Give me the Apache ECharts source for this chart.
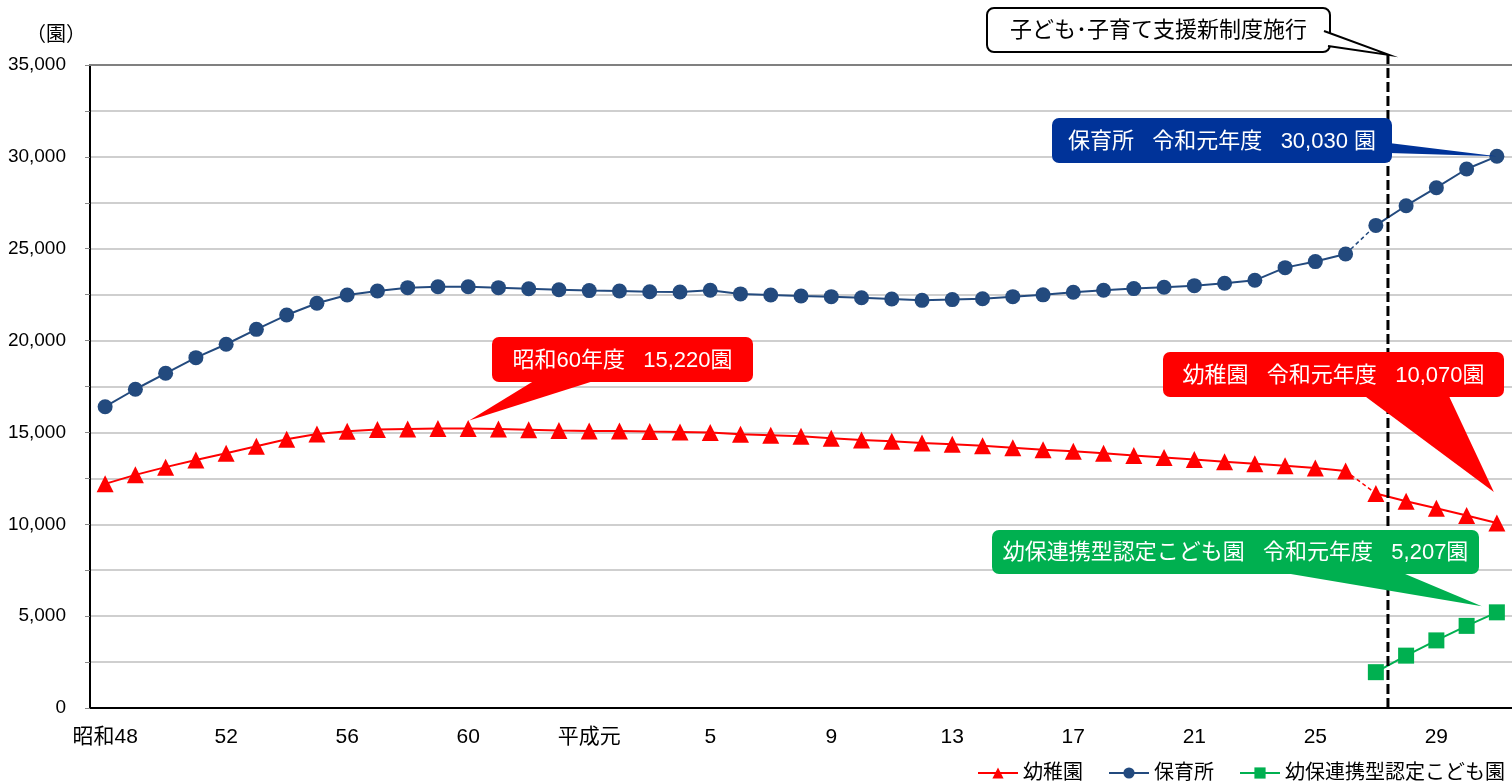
<!DOCTYPE html>
<html>
<head>
<meta charset="utf-8">
<script src="https://cdn.jsdelivr.net/npm/echarts@6/dist/echarts.min.js"></script>
<style>
html, body { margin: 0; padding: 0; background: #fff; }
#main { width: 1512px; height: 783px; }
</style>
</head>
<body>
<div id="main"></div>
<script>
// 年度（昭和48〜令和元）
var years = [
    '昭和48', '49', '50', '51', '52', '53', '54', '55', '56', '57', '58', '59', '60', '61', '62', '63',
    '平成元', '2', '3', '4', '5', '6', '7', '8', '9', '10', '11', '12', '13', '14', '15', '16', '17',
    '18', '19', '20', '21', '22', '23', '24', '25', '26', '27', '28', '29', '30', '令和元'
];

// 幼稚園数
var kindergarten = [
    12200, 12690, 13110, 13500, 13870, 14250, 14630, 14920, 15070, 15160,
    15190, 15210, 15220, 15190, 15150, 15110, 15080, 15080, 15050, 15030,
    14990, 14900, 14850, 14790, 14680, 14590, 14520, 14430, 14360, 14270,
    14170, 14060, 13980, 13870, 13740, 13630, 13520, 13410, 13300, 13180,
    13070, 12905, 11674, 11252, 10878, 10474, 10070
];

// 保育所数
var nursery = [
    16400, 17350, 18220, 19070, 19800, 20610, 21390, 22030, 22480, 22700,
    22880, 22930, 22930, 22880, 22820, 22770, 22720, 22700, 22660, 22640,
    22740, 22540, 22480, 22430, 22390, 22330, 22260, 22190, 22230, 22280,
    22390, 22490, 22630, 22740, 22830, 22900, 22990, 23120, 23280, 23970,
    24300, 24710, 26270, 27340, 28320, 29340, 30030
];

// 幼保連携型認定こども園数（平成27〜令和元）
var kodomoen = [1950, 2850, 3680, 4470, 5207];

var reformIndex = 42;   // 平成27年度（新制度施行）
var reformLinePos = 42.4; // 縦の破線の位置（カテゴリ番号）

var FONT = "'Liberation Sans', 'Noto Sans CJK JP', sans-serif";
var RED = '#ff0000', NAVY = '#234a7e', GREEN = '#00b050';

var kodomoenFull = years.map(function (y, i) {
    return i >= reformIndex ? kodomoen[i - reformIndex] : '-';
});

// 指定範囲だけ残す
function part(arr, from, to) {
    return arr.map(function (v, i) { return (i >= from && i <= to) ? v : '-'; });
}

function solid(name, data, color, symbol, size) {
    return {
        name: name, type: 'line', data: data,
        symbol: symbol, symbolSize: size,
        itemStyle: { color: color },
        lineStyle: { color: color, width: 2 },
        z: 3
    };
}
function dashed(name, data, color) {
    return {
        name: name, type: 'line', data: data, symbol: 'none',
        lineStyle: { color: color, width: 1.5, type: [4, 3] },
        z: 2
    };
}

var chart = echarts.init(document.getElementById('main'));

chart.setOption({
    animation: false,
    grid: { left: 90, right: 0, top: 65, bottom: 75 },
    legend: {
        data: ['幼稚園', '保育所', '幼保連携型認定こども園'],
        right: 2, bottom: -5,
        itemWidth: 40, itemHeight: 14, itemGap: 25,
        textStyle: { fontSize: 20, color: '#000', fontFamily: FONT }
    },
    xAxis: [{
        type: 'category',
        data: years,
        axisLine: { lineStyle: { color: '#000', width: 2 } },
        axisTick: { inside: true, length: 6, interval: 0, lineStyle: { color: '#888' } },
        axisLabel: { interval: 3, margin: 19, fontSize: 21, color: '#000', fontFamily: FONT }
    }, {
        type: 'value', min: -0.5, max: 46.5, position: 'top',
        axisLine: { show: true, lineStyle: { color: '#808080', width: 2 } },
        axisTick: { show: false }, axisLabel: { show: false }, splitLine: { show: false }
    }],
    yAxis: {
        type: 'value', min: 0, max: 35000, interval: 2500,
        name: '（園）', nameLocation: 'end', nameGap: 20,
        nameTextStyle: { fontSize: 20, color: '#000', fontFamily: FONT, align: 'right', padding: [0, 4, 0, 0] },
        axisLine: { show: true, onZero: false, lineStyle: { color: '#000', width: 2 } },
        axisTick: { show: true, length: 5, lineStyle: { color: '#888' } },
        axisLabel: {
            margin: 24, fontSize: 19, color: '#000', fontFamily: FONT,
            formatter: function (v) { return v % 5000 === 0 ? v.toLocaleString('en-US') : ''; }
        },
        splitLine: { lineStyle: { color: '#bfbfbf', width: 1.5 } }
    },
    series: [
        solid('幼稚園', part(kindergarten, 0, reformIndex - 1), RED, 'triangle', 17),
        solid('幼稚園', part(kindergarten, reformIndex, 46), RED, 'triangle', 17),
        dashed('幼稚園-', part(kindergarten, reformIndex - 1, reformIndex), RED),
        solid('保育所', part(nursery, 0, reformIndex - 1), NAVY, 'circle', 15),
        solid('保育所', part(nursery, reformIndex, 46), NAVY, 'circle', 15),
        dashed('保育所-', part(nursery, reformIndex - 1, reformIndex), NAVY),
        solid('幼保連携型認定こども園', kodomoenFull, GREEN, 'rect', 16),
        {
            name: '新制度', type: 'line', xAxisIndex: 1, clip: false, symbol: 'none',
            data: [[reformLinePos, 0], [reformLinePos, 35550]],
            lineStyle: { color: '#000', width: 3, type: [10, 4] },
            z: 4, silent: true
        }
    ]
});

// 吹き出し
function px(i, v) { return chart.convertToPixel({ xAxisIndex: 0, yAxisIndex: 0 }, [i, v]); }

function callout(box, b1, b2, tip, fill, text, border) {
    var els = [];
    els.push({
        type: 'rect', z: 100,
        shape: { x: box[0], y: box[1], width: box[2], height: box[3], r: 7 },
        style: border ? { fill: fill, stroke: border, lineWidth: 2 } : { fill: fill }
    });
    els.push({ type: 'polygon', z: 101, shape: { points: [b1, b2, tip] }, style: { fill: fill } });
    if (border) {
        els.push({ type: 'polyline', z: 102, shape: { points: [b1, tip, b2] }, style: { stroke: border, lineWidth: 2, fill: null } });
    }
    els.push({
        type: 'text', z: 103,
        style: {
            text: text, x: box[0] + box[2] / 2, y: box[1] + box[3] / 2 + 1,
            align: 'center', verticalAlign: 'middle',
            fill: border ? '#000' : '#fff', fontSize: 22, fontFamily: FONT
        }
    });
    return els;
}

var last = years.length - 1;
var pNur = px(last, nursery[last]);
var pKg60 = px(12, kindergarten[12]);
var pKg = px(last, kindergarten[last]);
var pKo = px(last, kodomoen[kodomoen.length - 1]);
var pTop = chart.convertToPixel({ xAxisIndex: 1, yAxisIndex: 0 }, [reformLinePos, 35550]);

var g = [];
g = g.concat(callout([987, 8, 343, 44], [1324, 31], [1328, 46], [pTop[0] + 1, pTop[1]], '#fff', '子ども･子育て支援新制度施行', '#000'));
g = g.concat(callout([1052, 118, 340, 45], [1389, 143], [1389, 153], [pNur[0], pNur[1]], '#003399', '保育所   令和元年度   30,030 園'));
g = g.concat(callout([492, 337, 261, 45], [537, 379], [600, 379], [pKg60[0] + 1, pKg60[1] - 8], RED, '昭和60年度   15,220園'));
g = g.concat(callout([1163, 352, 341, 45], [1362, 394], [1448, 394], [pKg[0] - 3, pKg[1] - 31], RED, '幼稚園   令和元年度   10,070園'));
g = g.concat(callout([992, 530, 487, 44], [1273, 571], [1398, 571], [pKo[0] - 15, pKo[1] - 6], GREEN, '幼保連携型認定こども園   令和元年度   5,207園'));

chart.setOption({ graphic: g });
</script>
</body>
</html>
